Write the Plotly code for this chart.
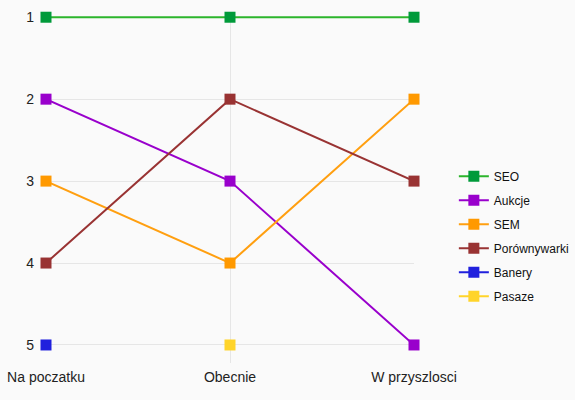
import plotly.graph_objects as go

# stages on the x axis
stages = ["Na poczatku", "Obecnie", "W przyszlosci"]

# ranking per channel (None = no value at that stage)
seo = [1, 1, 1]
aukcje = [2, 3, 5]
sem = [3, 4, 2]
porownywarki = [4, 2, 3]
banery = [5, None, None]
pasaze = [None, 5, None]

series = [
    ("SEO", seo, "#009a3a", "#2cb52c"),
    ("Aukcje", aukcje, "#9900cc", "#9900cc"),
    ("SEM", sem, "#ff9900", "#ff9f10"),
    ("Porównywarki", porownywarki, "#993333", "#993333"),
    ("Banery", banery, "#2020dd", "#2020dd"),
    ("Pasaze", pasaze, "#ffd42a", "#ffd42a"),
]

fig = go.Figure()
for name, vals, mcol, lcol in series:
    fig.add_trace(go.Scatter(
        x=stages, y=vals, name=name, mode="lines+markers",
        legendgroup=name,
        line=dict(color=lcol, width=2),
        marker=dict(symbol="square", size=11, color=mcol),
        cliponaxis=False,
    ))

# plot area 46..414 px wide, legend kept inside the paper, no auto margins
fig.update_layout(
    width=575, height=400,
    margin=dict(l=46, r=0, t=16, b=37, autoexpand=False),
    paper_bgcolor="#fafafa",
    plot_bgcolor="#fafafa",
    font=dict(family="Liberation Sans, Arial, sans-serif", size=14, color="#222"),
    legend=dict(x=0.771, xanchor="left", y=0.365, yanchor="middle",
                font=dict(size=12, color="#111"), tracegroupgap=5,
                bgcolor="rgba(0,0,0,0)"),
    showlegend=True,
)
fig.update_xaxes(domain=[0, 368 / 529], range=[0, 2], showgrid=True,
                 gridcolor="#e6e6e6", gridwidth=1, automargin=False,
                 zeroline=False, showline=False, ticks="",
                 ticklabelstandoff=4, tickfont=dict(size=14))
fig.update_yaxes(range=[5.22, 0.985], tickvals=[1, 2, 3, 4, 5], showgrid=True,
                 gridcolor="#e6e6e6", zeroline=False, showline=False, ticks="",
                 automargin=False, ticklabelstandoff=11, tickfont=dict(size=14))

fig.write_html("out.html",
               config={"displayModeBar": False, "responsive": False},
               post_script="document.body.style.margin='0';")
